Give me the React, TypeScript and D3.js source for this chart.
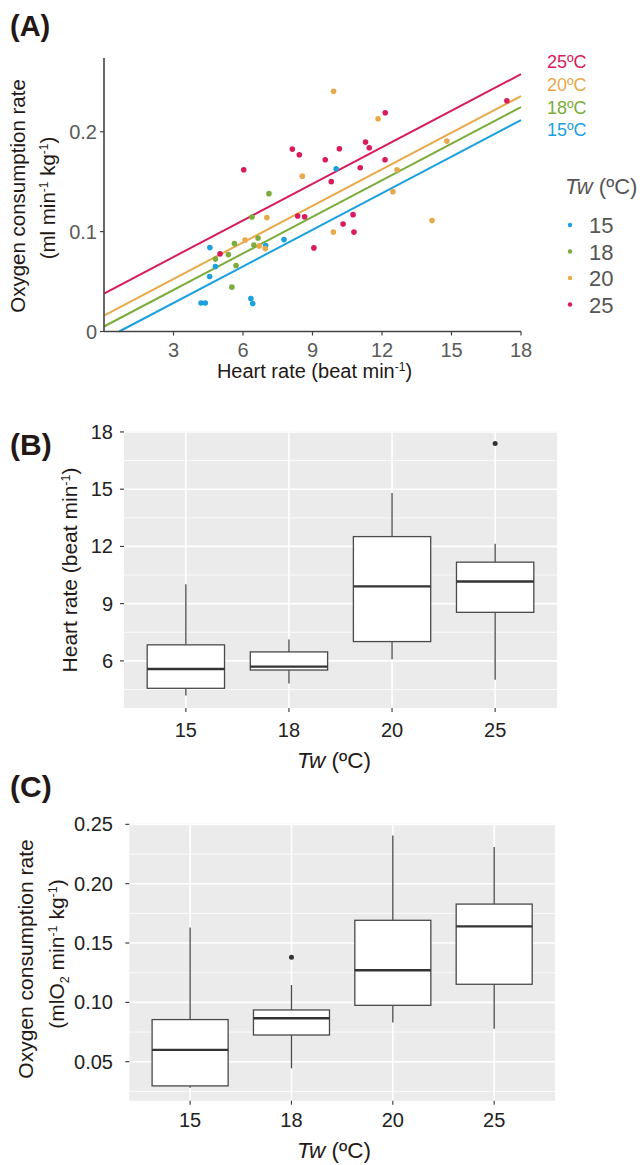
import React from 'react';
import * as d3 from 'd3';

const FONT = '"Liberation Sans", Arial, Helvetica, sans-serif';

// ---------- data ----------
const temps = ['15', '18', '20', '25'];
const tempColors = ['#1ba1e0', '#7bac3c', '#e8a94b', '#d81b5d'];

const hr15 = [4.57, 4.81, 4.56, 4.19, 4.37, 6.34, 6.42, 6.98, 7.77, 10.02];
const vo15 = [0.084, 0.065, 0.055, 0.0285, 0.0285, 0.033, 0.028, 0.086, 0.092, 0.163];

const hr18 = [4.81, 5.37, 5.63, 5.70, 5.52, 6.39, 6.47, 6.65, 7.12];
const vo18 = [0.0725, 0.077, 0.088, 0.066, 0.0444, 0.1146, 0.0866, 0.0936, 0.138];

const hr20 = [6.09, 6.70, 6.96, 7.03, 8.56, 9.90, 9.91, 11.83, 12.47, 12.65, 14.16, 14.80];
const vo20 = [0.0915, 0.0857, 0.083, 0.114, 0.1555, 0.0995, 0.2405, 0.213, 0.140, 0.162, 0.111, 0.1906];

const hr25 = [5.01, 6.03, 8.13, 8.36, 8.43, 8.66, 9.06, 9.55, 9.81, 10.16, 10.32, 10.75, 10.79, 11.06, 11.29, 11.45, 12.13, 12.14, 17.39];
const vo25 = [0.0777, 0.162, 0.1826, 0.1156, 0.177, 0.1149, 0.0837, 0.172, 0.150, 0.183, 0.1075, 0.117, 0.0995, 0.164, 0.1896, 0.184, 0.172, 0.219, 0.231];

// common-slope regression lines
const fitSlope = 0.0122;
const fitIntercepts = [-0.008, 0.005, 0.016, 0.038];

const heartRates = [hr15, hr18, hr20, hr25];
const oxygenRates = [vo15, vo18, vo20, vo25];

const aXTicks = [3, 6, 9, 12, 15, 18];
const aYTicks = [0, 0.1, 0.2];
const aYTickLabels = ['0', '0.1', '0.2'];
const bYTicks = [6, 9, 12, 15, 18];
const bYMinor = [4.5, 7.5, 10.5, 13.5, 16.5];
const cYTicks = [0.05, 0.10, 0.15, 0.20, 0.25];
const cYMinor = [0.025, 0.075, 0.125, 0.175, 0.225];

// ---------- helpers ----------
function boxStats(vals: number[]) {
  const s = [...vals].sort(d3.ascending);
  const q1 = d3.quantileSorted(s, 0.25) as number;
  const med = d3.quantileSorted(s, 0.5) as number;
  const q3 = d3.quantileSorted(s, 0.75) as number;
  const iqr = q3 - q1;
  const lo = q1 - 1.5 * iqr;
  const hi = q3 + 1.5 * iqr;
  const inside = s.filter((v) => v >= lo && v <= hi);
  return {
    q1, med, q3,
    wlo: d3.min(inside) as number,
    whi: d3.max(inside) as number,
    out: s.filter((v) => v < lo || v > hi),
  };
}

const TITLE = '#231815';
const BOXLINE = '#4a4a4a';

function PanelA() {
  const x = d3.scaleLinear().domain([0, 18]).range([104, 521]);
  const y = d3.scaleLinear().domain([0, 0.2738]).range([331.5, 58]);
  const line = d3.line<number>().x((d) => x(d)).y((d) => y(d));
  return (
    <g>
      <text x={10} y={36} fontFamily={FONT} fontWeight="bold" fontSize={29} fill={TITLE}>(A)</text>
      {/* regression lines */}
      {fitIntercepts.map((b, i) => {
        const x0 = Math.max(0, -b / fitSlope);
        const pts = [x0, 18];
        return (
          <path key={'l' + i}
            d={d3.line<number>().x((d) => x(d)).y((d) => y(b + fitSlope * d))(pts) as string}
            stroke={tempColors[i]} strokeWidth={2} fill="none" />
        );
      })}
      {/* points */}
      {heartRates.map((hrs, i) =>
        hrs.map((h, j) => (
          <circle key={`p${i}-${j}`} cx={x(h)} cy={y(oxygenRates[i][j])} r={2.8} fill={tempColors[i]} />
        ))
      )}
      {/* axes */}
      <line x1={x(0)} x2={x(0)} y1={58} y2={y(0)} stroke="#444" strokeWidth={1.6} />
      <line x1={x(0)} x2={x(18)} y1={y(0)} y2={y(0)} stroke="#444" strokeWidth={1.6} />
      {aYTicks.map((t, i) => (
        <g key={'yt' + i}>
          <line x1={x(0) - 4} x2={x(0)} y1={y(t)} y2={y(t)} stroke="#444" strokeWidth={1.2} />
          <text x={97} y={y(t) + 7} textAnchor="end" fontFamily={FONT} fontSize={20} fill="#5a5a5a">{aYTickLabels[i]}</text>
        </g>
      ))}
      {aXTicks.map((t) => (
        <g key={'xt' + t}>
          <line x1={x(t)} x2={x(t)} y1={y(0)} y2={y(0) + 4} stroke="#444" strokeWidth={1.2} />
          <text x={x(t)} y={357} textAnchor="middle" fontFamily={FONT} fontSize={20} fill="#5a5a5a">{t}</text>
        </g>
      ))}
      {/* axis titles */}
      <text x={(x(0) + x(18)) / 2 + 2} y={378} textAnchor="middle" fontFamily={FONT} fontSize={20} fill={TITLE}>
        Heart rate (beat min<tspan dy={-7} fontSize={12}>-1</tspan><tspan dy={7}>)</tspan>
      </text>
      <text transform="translate(25,196) rotate(-90)" textAnchor="middle" fontFamily={FONT} fontSize={20.5} fill={TITLE}>
        Oxygen consumption rate
      </text>
      <text transform="translate(55,198) rotate(-90)" textAnchor="middle" fontFamily={FONT} fontSize={20.5} fill={TITLE}>
        (ml min<tspan dy={-7} fontSize={12}>-1</tspan><tspan dy={7}> kg</tspan><tspan dy={-7} fontSize={12}>-1</tspan><tspan dy={7}>)</tspan>
      </text>
      {/* line labels */}
      {[3, 2, 1, 0].map((i, k) => (
        <text key={'ll' + i} x={547} y={68 + k * 22.8} fontFamily={FONT} fontSize={18} fill={tempColors[i]}>
          {temps[i]}ºC
        </text>
      ))}
      {/* legend */}
      <text x={565} y={194} fontFamily={FONT} fontSize={22} fill="#555">
        <tspan fontStyle="italic">Tw</tspan> (ºC)
      </text>
      {temps.map((t, i) => (
        <g key={'lg' + t}>
          <circle cx={570} cy={225 + i * 26.5} r={2.2} fill={tempColors[i]} />
          <text x={589} y={233 + i * 26.5} fontFamily={FONT} fontSize={22} fill="#555">{t}</text>
        </g>
      ))}
    </g>
  );
}

type BoxProps = {
  label: string;
  labelY: number;
  left: number; right: number; top: number; bottom: number;
  domain: [number, number];
  ticks: number[]; minor: number[];
  fmt: (v: number) => string;
  series: number[][];
  tickLabelY: number;
  titleY: number;
  yTitle: React.ReactNode;
};

function BoxPanel(p: BoxProps) {
  const x = d3.scalePoint<string>().domain(temps).range([p.left, p.right]).padding(0.6);
  const y = d3.scaleLinear().domain(p.domain).range([p.bottom, p.top]);
  const step = x.step();
  const hw = step * 0.375;
  const stats = p.series.map(boxStats);
  return (
    <g>
      <text x={10} y={p.labelY} fontFamily={FONT} fontWeight="bold" fontSize={30} fill={TITLE}>{p.label}</text>
      <rect x={p.left} y={p.top} width={p.right - p.left} height={p.bottom - p.top} fill="#EBEBEB" />
      {p.minor.map((t) => (
        <line key={'mn' + t} x1={p.left} x2={p.right} y1={y(t)} y2={y(t)} stroke="#fff" strokeWidth={0.8} />
      ))}
      {p.ticks.map((t) => (
        <line key={'mj' + t} x1={p.left} x2={p.right} y1={y(t)} y2={y(t)} stroke="#fff" strokeWidth={1.6} />
      ))}
      {temps.map((t) => (
        <line key={'vx' + t} x1={x(t)} x2={x(t)} y1={p.top} y2={p.bottom} stroke="#fff" strokeWidth={1.6} />
      ))}
      {stats.map((s, i) => {
        const cx = x(temps[i]) as number;
        return (
          <g key={'bx' + i}>
            <line x1={cx} x2={cx} y1={y(s.q3)} y2={y(s.whi)} stroke={BOXLINE} strokeWidth={1.3} />
            <line x1={cx} x2={cx} y1={y(s.q1)} y2={y(s.wlo)} stroke={BOXLINE} strokeWidth={1.3} />
            <rect x={cx - hw} y={y(s.q3)} width={hw * 2} height={y(s.q1) - y(s.q3)} fill="#fff" stroke={BOXLINE} strokeWidth={1.3} />
            <line x1={cx - hw} x2={cx + hw} y1={y(s.med)} y2={y(s.med)} stroke="#333" strokeWidth={2.4} />
            {s.out.map((o, j) => (
              <circle key={'o' + j} cx={cx} cy={y(o)} r={2.5} fill="#333" />
            ))}
          </g>
        );
      })}
      {p.ticks.map((t) => (
        <g key={'yt' + t}>
          <line x1={p.left - 4} x2={p.left} y1={y(t)} y2={y(t)} stroke="#333" strokeWidth={1.1} />
          <text x={113} y={y(t) + 7} textAnchor="end" fontFamily={FONT} fontSize={20} fill="#222">{p.fmt(t)}</text>
        </g>
      ))}
      {temps.map((t) => (
        <g key={'xt' + t}>
          <line x1={x(t)} x2={x(t)} y1={p.bottom} y2={p.bottom + 4} stroke="#333" strokeWidth={1.1} />
          <text x={x(t)} y={p.tickLabelY} textAnchor="middle" fontFamily={FONT} fontSize={20} fill="#222">{t}</text>
        </g>
      ))}
      <text x={297} y={p.titleY} fontFamily={FONT} fontSize={22.5} fill={TITLE}>
        <tspan fontStyle="italic">Tw</tspan> (ºC)
      </text>
      {p.yTitle}
    </g>
  );
}

export default function App() {
  return (
    <svg width={642} height={1165} style={{ position: 'absolute', left: 0, top: 0, display: 'block', background: '#fff' }}>
      <rect width={642} height={1165} fill="#fff" />
      <PanelA />
      <BoxPanel
        label="(B)" labelY={455}
        left={124} right={557} top={431} bottom={708}
        domain={[3.53, 18.05]}
        ticks={bYTicks} minor={bYMinor}
        fmt={(v) => String(v)}
        series={heartRates}
        tickLabelY={737}
        titleY={768}
        yTitle={
          <text transform="translate(77,570) rotate(-90)" textAnchor="middle" fontFamily={FONT} fontSize={21} fill={TITLE}>
            Heart rate (beat min<tspan dy={-7} fontSize={12.5}>-1</tspan><tspan dy={7}>)</tspan>
          </text>
        }
      />
      <BoxPanel
        label="(C)" labelY={797}
        left={129.3} right={555} top={823.5} bottom={1100.7}
        domain={[0.01715, 0.2507]}
        ticks={cYTicks} minor={cYMinor}
        fmt={(v) => v.toFixed(2)}
        series={oxygenRates}
        tickLabelY={1127}
        titleY={1158}
        yTitle={
          <g>
            <text transform="translate(33,959) rotate(-90)" textAnchor="middle" fontFamily={FONT} fontSize={21} fill={TITLE}>
              Oxygen consumption rate
            </text>
            <text transform="translate(64,954) rotate(-90)" textAnchor="middle" fontFamily={FONT} fontSize={21} fill={TITLE}>
              (mlO<tspan dy={5} fontSize={12.5}>2</tspan><tspan dy={-5}> min</tspan><tspan dy={-7} fontSize={12.5}>-1</tspan><tspan dy={7}> kg</tspan><tspan dy={-7} fontSize={12.5}>-1</tspan><tspan dy={7}>)</tspan>
            </text>
          </g>
        }
      />
    </svg>
  );
}
